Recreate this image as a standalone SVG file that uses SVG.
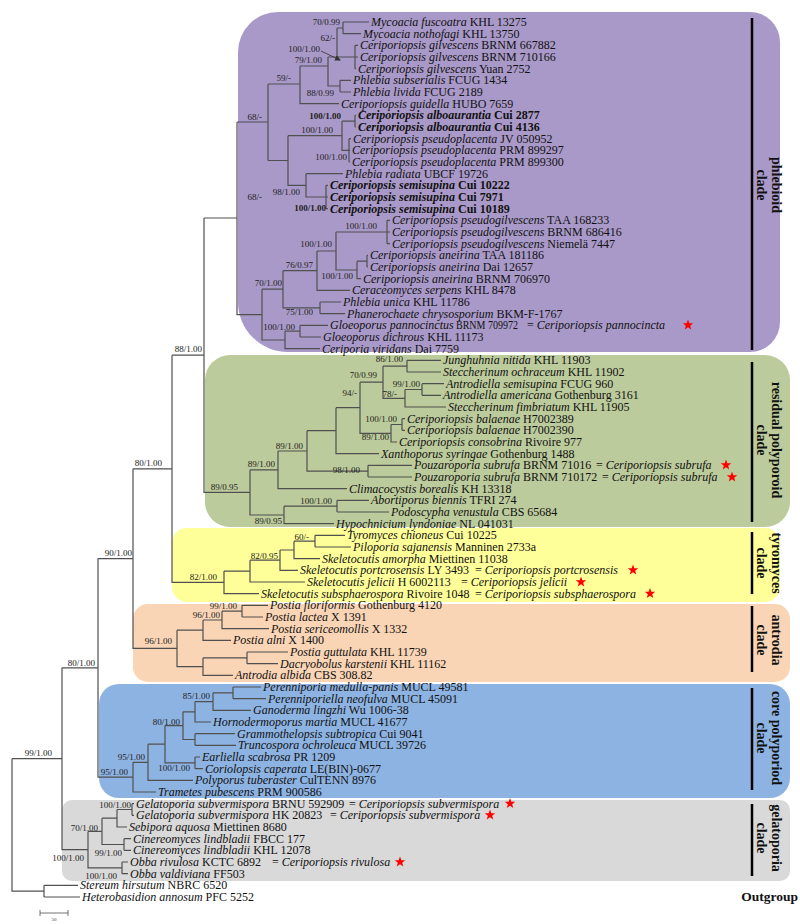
<svg xmlns="http://www.w3.org/2000/svg" xmlns:xlink="http://www.w3.org/1999/xlink" width="800" height="924" viewBox="0 0 800 924">
<style>
.tx{font-family:"Liberation Serif","Times New Roman",serif;font-size:12px;fill:#111}
.i{font-style:italic}
.b{font-weight:bold}
.s{font-family:"Liberation Serif","Times New Roman",serif;font-size:9px;fill:#222;text-anchor:end}
.ln{fill:none;stroke:#505050;stroke-width:1.2}
.bar{stroke:#000;stroke-width:2.5}
.cl{font-family:"Liberation Serif","Times New Roman",serif;font-size:14px;font-weight:bold;text-anchor:middle;fill:#111}
</style>
<defs>
<polygon id="st" points="0,-5.5 1.35,-1.86 5.23,-1.7 2.19,0.71 3.23,4.45 0,2.3 -3.23,4.45 -2.19,0.71 -5.23,-1.7 -1.35,-1.86" fill="#ff0000"/>
<marker id="ah" markerWidth="6" markerHeight="6" refX="5" refY="3" orient="auto" markerUnits="userSpaceOnUse"><path d="M0,0 L6,3 L0,6 Z" fill="#333"/></marker>
</defs>
<rect width="800" height="924" fill="#fff"/>
<g id="clades">
<path d="M278,12H750A30,30 0 0 1 780,42V322A30,30 0 0 1 750,352H288A50,50 0 0 1 238,302V52A40,40 0 0 1 278,12Z" fill="#a999c8"/>
<rect x="205" y="355" width="585" height="172" rx="25" fill="#bccb9b"/>
<rect x="172" y="528" width="608" height="74" rx="15" fill="#ffff99"/>
<rect x="133" y="604" width="657" height="78" rx="15" fill="#f9d4b5"/>
<rect x="99" y="684" width="691" height="114" rx="20" fill="#8db3e2"/>
<rect x="62" y="800" width="728" height="81" rx="10" fill="#d9d9d9"/>
<line class="bar" x1="752" y1="18" x2="752" y2="350"/>
<line class="bar" x1="752" y1="362" x2="752" y2="522"/>
<line class="bar" x1="752" y1="532" x2="752" y2="594"/>
<line class="bar" x1="752" y1="606" x2="752" y2="672"/>
<line class="bar" x1="752" y1="688" x2="752" y2="790"/>
<line class="bar" x1="752" y1="804" x2="752" y2="876"/>
<text class="cl" transform="translate(772,185) rotate(90)">phlebioid</text>
<text class="cl" transform="translate(757,185) rotate(90)">clade</text>
<text class="cl" transform="translate(772,440) rotate(90)">residual polyporoid</text>
<text class="cl" transform="translate(757,440) rotate(90)">clade</text>
<text class="cl" transform="translate(772,563) rotate(90)">tyromyces</text>
<text class="cl" transform="translate(757,563) rotate(90)">clade</text>
<text class="cl" transform="translate(772,640) rotate(90)">antrodia</text>
<text class="cl" transform="translate(757,640) rotate(90)">clade</text>
<text class="cl" transform="translate(772,738) rotate(90)">core polyporiod</text>
<text class="cl" transform="translate(757,738) rotate(90)">clade</text>
<text class="cl" transform="translate(772,838) rotate(90)">gelatoporia</text>
<text class="cl" transform="translate(757,838) rotate(90)">clade</text>
<text class="cl" x="798" y="901" style="text-anchor:end;font-size:13.5px">Outgroup</text>
</g>
<g id="connectors" class="ln">
<path d="M343,22V33.7M343,22H369M343,33.7H361M337,28H343M355,45.3V68.7M355,45.3H358M355,57H358M355,68.7H356M337,28V57H355M328,57H337M328,57V86H340M340,80.3V92M340,80.3H351M340,92H351M300,66H328M300,66V103.7H339M268,84H300M268,84V160.5M355,115.3V127M355,115.3H356M355,127H356M349,138.7V162M349,138.7H351M349,150.3H350M349,162H350M342,121.2H355M342,121.2V150.3H349M326,185.3V208.7M326,185.3H328M326,197H328M326,208.7H328M306,173.7H343M306,173.7V197H326M288,135.7H342M288,135.7V185.3H306M268,160.5H288M237,122H268"/>
<path d="M387,220.3V243.7M387,220.3H390M387,232H390M387,243.7H390M367,255.3V267M367,255.3H368M367,267H368M357,261.2H367M357,261.2V278.7H361M336,232H387M336,232V270H357M317,251H336M317,251V290.3H350M320,302V313.7M320,302H341M320,313.7H345M283,270.7H317M283,270.7V307.8H320M300,325.3V337M300,325.3H328M300,337H321M285,331.2H300M285,331.2V348.7H320M262,289.2H283M262,289.2V340H285M237,122V314.6H262M204,218H237"/>
<path d="M407,360.3V372M407,360.3H441M407,372H441M422,383.7V395.3M422,383.7H444M422,395.3H441M405,389.5H422M405,389.5V407H446M383,366.2H407M383,366.2V398.3H405M402,418.7V430.3M402,418.7H405M402,430.3H405M391,424.5H402M391,424.5V442H397M360,382.2H383M360,382.2V433.3H391M336,407.7H360M336,407.7V453.7H379M368,465.3V477M368,465.3H412M368,477H412M307,430.7H336M307,430.7V471.2H368M278,451H307M278,451V488.7H347M337,500.3V512M337,500.3H369M337,512H389M284,506.2H337M284,506.2V523.7H334M250,469.8H278M250,469.8V515H284M204,218V492.4H250M172,355.2H204"/>
<path d="M315,535.3V547M315,535.3H345M315,547H351M294,541.2H315M294,541.2V558.7H320M280,550H294M280,550V570.3H298M250,560.2H280M250,560.2V582H305M224,571.1H250M224,571.1V593.7H259M172,355.2V582.4H224"/>
<path d="M242,605.3V617M242,605.3H268M242,617H263M222,611.2H242M222,611.2V628.7H269M203,620H222M203,620V640.3H231M247,652V663.7M247,652H288M247,663.7H278M203,657.8H247M203,657.8V675.3H233M177,630.2H203M177,630.2V666.6H203M133,468.8H172M133,468.8V648.4H177"/>
<path d="M233,687V698.7M233,687H261M233,698.7H266M213,692.8H233M213,692.8V710.3H251M195,701.6H213M195,701.6V722H211M195,733.7V745.3M195,733.7H235M195,745.3H236M183,711.8H195M183,711.8V739.5H195M195,757V768.7M195,757H200M195,768.7H203M165,725.6H183M165,725.6V762.8H195M148,744.2H165M148,744.2V780.3H193M133,762.3H148M133,762.3V792H156M98,558.6H133M98,558.6V777.1H133"/>
<path d="M132,803.7V815.3M132,803.7H134M132,815.3H134M117,809.5H132M117,809.5V827H127M124,838.7V850.3M124,838.7H131M124,850.3H131M102,818.2H117M102,818.2V844.5H124M122,862V873.7M122,862H128M122,873.7H128M88,831.4H102M88,831.4V867.8H122M62,667.8H98M62,667.8V849.6H88M44,885.3V897M44,885.3H78M44,897H80M12,758.7H62M12,758.7V891.2H44"/>
<path d="M321,51L340,60" stroke="#333" stroke-width="0.8" marker-end="url(#ah)"/>
<path d="M40,913H68M40,910V916M68,910V916" stroke-width="0.8"/>
</g>
<g id="support">
<text class="s" x="340" y="25">70/0.99</text>
<text class="s" x="335" y="41">62/-</text>
<text class="s" x="320" y="52">100/1.00</text>
<text class="s" x="322" y="63">79/1.00</text>
<text class="s" x="291" y="81">59/-</text>
<text class="s" x="334" y="96">88/0.99</text>
<text class="s" x="262" y="120">68/-</text>
<text class="s b" x="341" y="119">100/1.00</text>
<text class="s" x="333" y="133">100/1.00</text>
<text class="s" x="347" y="160">100/1.00</text>
<text class="s" x="300" y="195">98/1.00</text>
<text class="s b" x="326" y="211">100/1.00</text>
<text class="s" x="262" y="200">68/-</text>
<text class="s" x="377" y="229">100/1.00</text>
<text class="s" x="332" y="247">100/1.00</text>
<text class="s" x="313" y="268">76/0.97</text>
<text class="s" x="353" y="279">100/1.00</text>
<text class="s" x="282" y="286">70/1.00</text>
<text class="s" x="313" y="315">75/1.00</text>
<text class="s" x="295" y="330">100/1.00</text>
<text class="s" x="202" y="352">88/1.00</text>
<text class="s" x="162" y="466">80/1.00</text>
<text class="s" x="132" y="556">90/1.00</text>
<text class="s" x="95" y="666">80/1.00</text>
<text class="s" x="52" y="756">99/1.00</text>
<text class="s" x="238" y="490">89/0.95</text>
<text class="s" x="403" y="362">86/1.00</text>
<text class="s" x="377" y="378">70/0.99</text>
<text class="s" x="420" y="387">99/1.00</text>
<text class="s" x="397" y="397">78/-</text>
<text class="s" x="357" y="396">94/-</text>
<text class="s" x="397" y="422">100/1.00</text>
<text class="s" x="389" y="440">89/1.00</text>
<text class="s" x="303" y="449">89/1.00</text>
<text class="s" x="275" y="467">89/1.00</text>
<text class="s" x="360" y="473">98/1.00</text>
<text class="s" x="332" y="504">100/1.00</text>
<text class="s" x="282" y="524">89/0.95</text>
<text class="s" x="309" y="540">60/-</text>
<text class="s" x="278" y="559">82/0.95</text>
<text class="s" x="217" y="580">82/1.00</text>
<text class="s" x="237" y="609">99/1.00</text>
<text class="s" x="220" y="618">96/1.00</text>
<text class="s" x="172" y="644">96/1.00</text>
<text class="s" x="210" y="699">85/1.00</text>
<text class="s" x="180" y="725">80/1.00</text>
<text class="s" x="145" y="760">95/1.00</text>
<text class="s" x="190" y="771">100/1.00</text>
<text class="s" x="128" y="775">95/1.00</text>
<text class="s" x="131" y="808">100/1.00</text>
<text class="s" x="98" y="831">70/1.00</text>
<text class="s" x="122" y="856">99/1.00</text>
<text class="s" x="84" y="861">100/1.00</text>
<text class="s" x="117" y="879">100/1.00</text>
<text x="54" y="921" font-family="Liberation Serif,serif" font-size="5" text-anchor="middle" fill="#333">50</text>
</g>
<g id="t1"><text class="tx" x="371" y="26"><tspan class="i">Mycoacia fuscoatra</tspan> KHL 13275</text></g>
<g id="t2"><text class="tx" x="363" y="37.7"><tspan class="i">Mycoacia nothofagi</tspan> KHL 13750</text></g>
<g id="t3"><text class="tx" x="360" y="49.3"><tspan class="i">Ceriporiopsis gilvescens</tspan> BRNM 667882</text></g>
<g id="t4"><text class="tx" x="360" y="61"><tspan class="i">Ceriporiopsis gilvescens</tspan> BRNM 710166</text></g>
<g id="t5"><text class="tx" x="358" y="72.7"><tspan class="i">Ceriporiopsis gilvescens</tspan> Yuan 2752</text></g>
<g id="t6"><text class="tx" x="353" y="84.3"><tspan class="i">Phlebia subserialis</tspan> FCUG 1434</text></g>
<g id="t7"><text class="tx" x="353" y="96"><tspan class="i">Phlebia livida</tspan> FCUG 2189</text></g>
<g id="t8"><text class="tx" x="341" y="107.7"><tspan class="i">Ceriporiopsis guidella</tspan> HUBO 7659</text></g>
<g id="t9"><text class="tx b" x="358" y="119.3"><tspan class="i">Ceriporiopsis alboaurantia</tspan> Cui 2877</text></g>
<g id="t10"><text class="tx b" x="358" y="131"><tspan class="i">Ceriporiopsis alboaurantia</tspan> Cui 4136</text></g>
<g id="t11"><text class="tx" x="353" y="142.7"><tspan class="i">Ceriporiopsis pseudoplacenta</tspan> JV 050952</text></g>
<g id="t12"><text class="tx" x="352" y="154.3"><tspan class="i">Ceriporiopsis pseudoplacenta</tspan> PRM 899297</text></g>
<g id="t13"><text class="tx" x="352" y="166"><tspan class="i">Ceriporiopsis pseudoplacenta</tspan> PRM 899300</text></g>
<g id="t14"><text class="tx" x="345" y="177.7"><tspan class="i">Phlebia radiata</tspan> UBCF 19726</text></g>
<g id="t15"><text class="tx b" x="330" y="189.3"><tspan class="i">Ceriporiopsis semisupina</tspan> Cui 10222</text></g>
<g id="t16"><text class="tx b" x="330" y="201"><tspan class="i">Ceriporiopsis semisupina</tspan> Cui 7971</text></g>
<g id="t17"><text class="tx b" x="330" y="212.7"><tspan class="i">Ceriporiopsis semisupina</tspan> Cui 10189</text></g>
<g id="t18"><text class="tx" x="392" y="224.3"><tspan class="i">Ceriporiopsis pseudogilvescens</tspan> TAA 168233</text></g>
<g id="t19"><text class="tx" x="392" y="236"><tspan class="i">Ceriporiopsis pseudogilvescens</tspan> BRNM 686416</text></g>
<g id="t20"><text class="tx" x="392" y="247.7"><tspan class="i">Ceriporiopsis pseudogilvescens</tspan> Niemelä 7447</text></g>
<g id="t21"><text class="tx" x="370" y="259.3"><tspan class="i">Ceriporiopsis aneirina</tspan> TAA 181186</text></g>
<g id="t22"><text class="tx" x="370" y="271"><tspan class="i">Ceriporiopsis aneirina</tspan> Dai 12657</text></g>
<g id="t23"><text class="tx" x="363" y="282.7"><tspan class="i">Ceriporiopsis aneirina</tspan> BRNM 706970</text></g>
<g id="t24"><text class="tx" x="352" y="294.3"><tspan class="i">Ceraceomyces serpens</tspan> KHL 8478</text></g>
<g id="t25"><text class="tx" x="343" y="306"><tspan class="i">Phlebia unica</tspan> KHL 11786</text></g>
<g id="t26"><text class="tx" x="347" y="317.7"><tspan class="i">Phanerochaete chrysosporium</tspan> BKM-F-1767</text></g>
<g id="t27"><text class="tx i" x="330" y="329.3">Gloeoporus pannocinctus</text><text class="tx" x="456" y="329.3" textLength="62" lengthAdjust="spacingAndGlyphs">BRNM 709972</text><text class="tx" x="527" y="329.3">= <tspan class="i">Ceriporiopsis pannocincta</tspan></text><use href="#st" x="688" y="325"/></g>
<g id="t28"><text class="tx" x="323" y="341"><tspan class="i">Gloeoporus dichrous</tspan> KHL 11173</text></g>
<g id="t29"><text class="tx" x="322" y="352.7"><tspan class="i">Ceriporia viridans</tspan> Dai 7759</text></g>
<g id="t30"><text class="tx" x="443" y="364.3"><tspan class="i">Junghuhnia nitida</tspan> KHL 11903</text></g>
<g id="t31"><text class="tx" x="443" y="376"><tspan class="i">Steccherinum ochraceum</tspan> KHL 11902</text></g>
<g id="t32"><text class="tx" x="446" y="387.7"><tspan class="i">Antrodiella semisupina</tspan> FCUG 960</text></g>
<g id="t33"><text class="tx" x="443" y="399.3"><tspan class="i">Antrodiella americana</tspan> Gothenburg 3161</text></g>
<g id="t34"><text class="tx" x="448" y="411"><tspan class="i">Steccherinum fimbriatum</tspan> KHL 11905</text></g>
<g id="t35"><text class="tx" x="407" y="422.7"><tspan class="i">Ceriporiopsis balaenae</tspan> H7002389</text></g>
<g id="t36"><text class="tx" x="407" y="434.3"><tspan class="i">Ceriporiopsis balaenae</tspan> H7002390</text></g>
<g id="t37"><text class="tx" x="399" y="446"><tspan class="i">Ceriporiopsis consobrina</tspan> Rivoire 977</text></g>
<g id="t38"><text class="tx" x="381" y="457.7"><tspan class="i">Xanthoporus syringae</tspan> Gothenburg 1488</text></g>
<g id="t39"><text class="tx" x="414" y="469.3"><tspan class="i">Pouzaroporia subrufa</tspan> BRNM 71016</text><text class="tx" x="596" y="469.3">= <tspan class="i">Ceriporiopsis subrufa</tspan></text><use href="#st" x="726" y="465"/></g>
<g id="t40"><text class="tx" x="414" y="481"><tspan class="i">Pouzaroporia subrufa</tspan> BRNM 710172</text><text class="tx" x="602" y="481">= <tspan class="i">Ceriporiopsis subrufa</tspan></text><use href="#st" x="732" y="477"/></g>
<g id="t41"><text class="tx" x="349" y="492.7"><tspan class="i">Climacocystis borealis</tspan> KH 13318</text></g>
<g id="t42"><text class="tx" x="371" y="504.3"><tspan class="i">Abortiporus biennis</tspan> TFRI 274</text></g>
<g id="t43"><text class="tx" x="391" y="516"><tspan class="i">Podoscypha venustula</tspan> CBS 65684</text></g>
<g id="t44"><text class="tx" x="336" y="527.7"><tspan class="i">Hypochnicium lyndoniae</tspan> NL 041031</text></g>
<g id="t45"><text class="tx" x="347" y="539.3"><tspan class="i">Tyromyces chioneus</tspan> Cui 10225</text></g>
<g id="t46"><text class="tx" x="353" y="551"><tspan class="i">Piloporia sajanensis</tspan> Manninen 2733a</text></g>
<g id="t47"><text class="tx" x="322" y="562.7"><tspan class="i">Skeletocutis amorpha</tspan> Miettinen 11038</text></g>
<g id="t48"><text class="tx" x="300" y="574.3"><tspan class="i">Skeletocutis portcrosensis</tspan> LY 3493</text><text class="tx" x="475" y="574.3">= <tspan class="i">Ceriporiopsis portcrosensis</tspan></text><use href="#st" x="633" y="570"/></g>
<g id="t49"><text class="tx" x="307" y="586"><tspan class="i">Skeletocutis jelicii</tspan> H 6002113</text><text class="tx" x="461" y="586">= <tspan class="i">Ceriporiopsis jelicii</tspan></text><use href="#st" x="581" y="582"/></g>
<g id="t50"><text class="tx" x="261" y="597.7"><tspan class="i">Skeletocutis subsphaerospora</tspan> Rivoire 1048</text><text class="tx" x="475" y="597.7">= <tspan class="i">Ceriporiopsis subsphaerospora</tspan></text><use href="#st" x="650" y="593.5"/></g>
<g id="t51"><text class="tx" x="270" y="609.3"><tspan class="i">Postia floriformis</tspan> Gothenburg 4120</text></g>
<g id="t52"><text class="tx" x="265" y="621"><tspan class="i">Postia lactea</tspan> X 1391</text></g>
<g id="t53"><text class="tx" x="271" y="632.7"><tspan class="i">Postia sericeomollis</tspan> X 1332</text></g>
<g id="t54"><text class="tx" x="233" y="644.3"><tspan class="i">Postia alni</tspan> X 1400</text></g>
<g id="t55"><text class="tx" x="290" y="656"><tspan class="i">Postia guttulata</tspan> KHL 11739</text></g>
<g id="t56"><text class="tx" x="280" y="667.7"><tspan class="i">Dacryobolus karstenii</tspan> KHL 11162</text></g>
<g id="t57"><text class="tx" x="235" y="679.3"><tspan class="i">Antrodia albida</tspan> CBS 308.82</text></g>
<g id="t58"><text class="tx" x="263" y="691"><tspan class="i">Perenniporia medulla-panis</tspan> MUCL 49581</text></g>
<g id="t59"><text class="tx" x="268" y="702.7"><tspan class="i">Perenniporiella neofulva</tspan> MUCL 45091</text></g>
<g id="t60"><text class="tx" x="253" y="714.3"><tspan class="i">Ganoderma lingzhi</tspan> Wu 1006-38</text></g>
<g id="t61"><text class="tx" x="213" y="726"><tspan class="i">Hornodermoporus martia</tspan> MUCL 41677</text></g>
<g id="t62"><text class="tx" x="237" y="737.7"><tspan class="i">Grammothelopsis subtropica</tspan> Cui 9041</text></g>
<g id="t63"><text class="tx" x="238" y="749.3"><tspan class="i">Truncospora ochroleuca</tspan> MUCL 39726</text></g>
<g id="t64"><text class="tx" x="202" y="761"><tspan class="i">Earliella scabrosa</tspan> PR 1209</text></g>
<g id="t65"><text class="tx" x="205" y="772.7"><tspan class="i">Coriolopsis caperata</tspan> LE(BIN)-0677</text></g>
<g id="t66"><text class="tx" x="195" y="784.3"><tspan class="i">Polyporus tuberaster</tspan> CulTENN 8976</text></g>
<g id="t67"><text class="tx" x="158" y="796"><tspan class="i">Trametes pubescens</tspan> PRM 900586</text></g>
<g id="t68"><text class="tx" x="136" y="807.7"><tspan class="i">Gelatoporia subvermispora</tspan> BRNU 592909</text><text class="tx" x="349" y="807.7">= <tspan class="i">Ceriporiopsis subvermispora</tspan></text><use href="#st" x="510" y="803.5"/></g>
<g id="t69"><text class="tx" x="136" y="819.3"><tspan class="i">Gelatoporia subvermispora</tspan> HK 20823</text><text class="tx" x="330" y="819.3">= <tspan class="i">Ceriporiopsis subvermispora</tspan></text><use href="#st" x="490" y="815"/></g>
<g id="t70"><text class="tx" x="129" y="831"><tspan class="i">Sebipora aquosa</tspan> Miettinen 8680</text></g>
<g id="t71"><text class="tx" x="133" y="842.7"><tspan class="i">Cinereomyces lindbladii</tspan> FBCC 177</text></g>
<g id="t72"><text class="tx" x="133" y="854.3"><tspan class="i">Cinereomyces lindbladii</tspan> KHL 12078</text></g>
<g id="t73"><text class="tx" x="130" y="866"><tspan class="i">Obba rivulosa</tspan> KCTC 6892</text><text class="tx" x="272" y="866">= <tspan class="i">Ceriporiopsis rivulosa</tspan></text><use href="#st" x="400" y="862"/></g>
<g id="t74"><text class="tx" x="130" y="877.7"><tspan class="i">Obba valdiviana</tspan> FF503</text></g>
<g id="t75"><text class="tx" x="80" y="889.3"><tspan class="i">Stereum hirsutum</tspan> NBRC 6520</text></g>
<g id="t76"><text class="tx" x="82" y="901"><tspan class="i">Heterobasidion annosum</tspan> PFC 5252</text></g>
</svg>
